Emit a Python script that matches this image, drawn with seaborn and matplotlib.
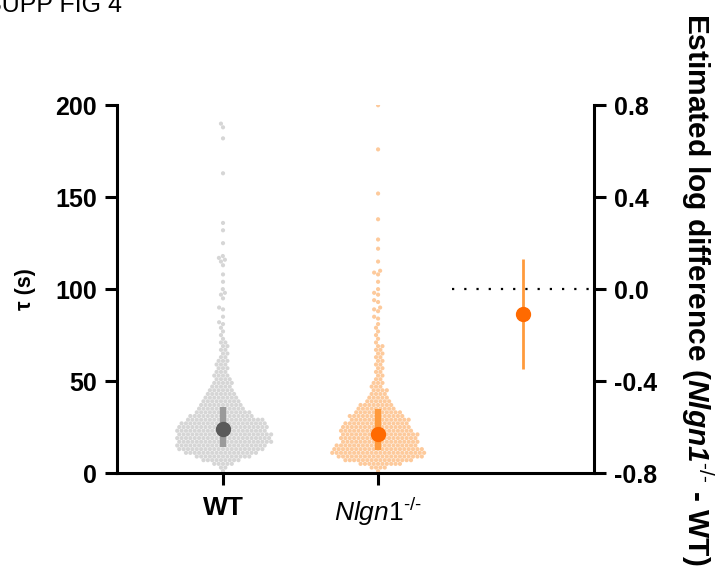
import numpy as np
import pandas as pd
import seaborn as sns
import matplotlib.pyplot as plt

bin_centres = np.arange(1, 80, 2)
wt_counts = [1, 2, 5, 9, 13, 17, 20, 21, 22, 22,
             22, 21, 21, 20, 18, 15, 13, 11, 10, 9,
             8, 7, 6, 5, 5, 4, 4, 3, 3, 3,
             3, 2, 2, 2, 2, 2, 1, 1, 1, 1]
ko_counts = [1, 4, 10, 16, 20, 22, 21, 19, 18, 18,
             18, 17, 16, 15, 14, 13, 11, 9, 8, 6,
             5, 4, 4, 3, 3, 2, 2, 2, 2, 2,
             2, 2, 2, 2, 2, 1, 1, 1, 1, 1]
# single points above 80 s
wt_tail = [190, 188, 182, 163, 136, 132, 125, 118, 117, 116, 115, 113,
           108, 104, 100, 98, 97, 95, 90, 89, 85, 82, 81]
ko_tail = [200, 176, 152, 138, 127, 122, 115, 110, 109, 108, 104, 100,
           98, 97, 94, 93, 90, 89, 88, 85, 84, 81]

groups = ['WT', 'Nlgn1']
centre_vals = [23.9, 21.2]
low_vals = [14.1, 12.5]
high_vals = [35.9, 34.8]

# estimated log difference (Nlgn1-/- - WT)
diff_est = -0.108
diff_lo = -0.346
diff_hi = 0.13

sns.set_style('ticks')
plt.rcParams['font.family'] = ['Liberation Sans', 'DejaVu Sans']
plt.rcParams['text.color'] = 'black'
plt.rcParams['axes.labelcolor'] = 'black'
plt.rcParams['xtick.color'] = 'black'
plt.rcParams['ytick.color'] = 'black'
plt.rcParams['mathtext.fontset'] = 'custom'
plt.rcParams['mathtext.rm'] = 'Liberation Sans'
plt.rcParams['mathtext.it'] = 'Liberation Sans:italic'
plt.rcParams['mathtext.bf'] = 'Liberation Sans:bold'
plt.rcParams['mathtext.bfit'] = 'Liberation Sans:italic:bold'

wt_vals = np.concatenate([np.repeat(bin_centres, wt_counts), wt_tail])
ko_vals = np.concatenate([np.repeat(bin_centres, ko_counts), ko_tail])
df = pd.DataFrame({
    'group': ['WT'] * len(wt_vals) + ['Nlgn1'] * len(ko_vals),
    'tau': np.concatenate([wt_vals, ko_vals]),
})

fig = plt.figure(figsize=(7.22, 5.72), dpi=100)
ax = fig.add_axes([0.162, 0.173, 0.661, 0.643])

sns.swarmplot(data=df, x='group', y='tau', hue='group', order=groups,
              palette={'WT': '#d6d6d6', 'Nlgn1': '#fdca9c'},
              size=3, linewidth=0, legend=False, ax=ax, zorder=1)

# median and spread markers
bar_cols = ['#9a9a9a', '#ff9a3c']
dot_cols = ['#5a5a5a', '#ff6a00']
for i in range(2):
    ax.vlines(i, low_vals[i], high_vals[i], color=bar_cols[i], lw=4.5, zorder=3)
    ax.plot(i, centre_vals[i], 'o', ms=10, color=dot_cols[i], zorder=4)

ax.set_xlim(-0.684, 2.394)
ax.set_ylim(0, 200)
ax.set_yticks([0, 50, 100, 150, 200])
ax.set_xticks([0, 1])
ax.set_xticklabels(['WT', r'$\mathit{Nlgn1}^{\text{-/-}}$'])
ax.set_xlabel('')
ax.set_ylabel('τ (s)', fontsize=15.5, fontweight='bold', labelpad=14)
ax.tick_params(width=2.2, length=8.5, labelsize=18, pad=6)
ax.tick_params(axis='x', labelsize=19, pad=8)
for lab in ax.get_yticklabels():
    lab.set_fontweight('bold')
ax.get_xticklabels()[0].set_fontweight('bold')
for s in ['top', 'right']:
    ax.spines[s].set_visible(False)
for s in ['left', 'bottom']:
    ax.spines[s].set_linewidth(2.2)
    ax.spines[s].set_color('black')

ax2 = ax.twinx()
ax2.set_ylim(-0.8, 0.8)
ax2.set_yticks([-0.8, -0.4, 0, 0.4, 0.8])
ax2.set_yticklabels(['-0.8', '-0.4', '0.0', '0.4', '0.8'], fontweight='bold')
ax2.tick_params(width=2.2, length=8.5, labelsize=18, pad=6)
for s in ['top', 'left', 'bottom']:
    ax2.spines[s].set_visible(False)
ax2.spines['right'].set_linewidth(2.2)
ax2.spines['right'].set_color('black')

ax2.hlines(0, 1.477, 2.394, colors='black', lw=1.6, linestyles=(0, (1, 4.5)))
ax2.vlines(1.935, diff_lo, diff_hi, color='#ff9a3c', lw=2)
ax2.plot(1.935, diff_est, 'o', ms=10, color='#ff6a00')
ax2.set_ylabel('Estimated log difference (' + r'$\mathbfit{Nlgn1}^{\text{-/-}}$' + ' - WT)',
               rotation=270, fontsize=21.5, fontweight='bold', labelpad=42)

fig.text(-0.021, 0.979, 'SUPP FIG 4', fontsize=18, va='baseline', ha='left')

fig.savefig('out.png', dpi=100)
